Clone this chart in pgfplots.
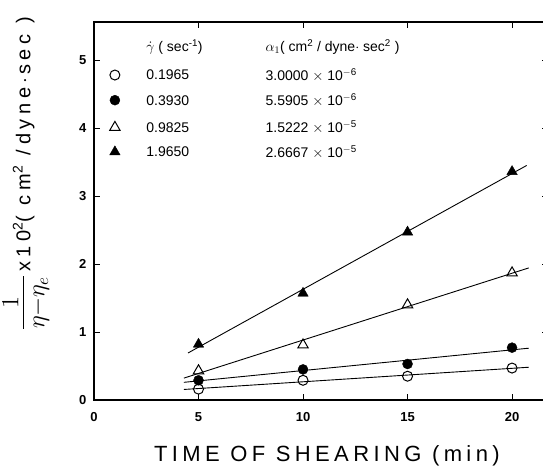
\documentclass[border=0pt]{standalone}
\usepackage{pgfplots}
\pgfplotsset{compat=1.18}
\usepackage{fontspec}
\setmainfont{Liberation Sans}
\usetikzlibrary{calc}

\begin{document}
\begin{tikzpicture}
\begin{axis}[
  scale only axis,
  width=454pt, height=378pt,
  xmin=0, xmax=21.72, ymin=0, ymax=5.56,
  xtick={0,5,10,15,20}, ytick={0,1,2,3,4,5},
  tick align=inside, major tick length=6pt,
  axis line style={line width=1.1pt},
  tick style={line width=1pt, black},
  /pgf/number format/assume math mode=true,
  ticklabel style={font=\fontsize{13}{15}\selectfont\bfseries},
  xticklabel style={yshift=-9pt},
  yticklabel style={xshift=-4pt},
  xlabel={\addfontfeatures{LetterSpace=20}TIME OF SHEARING (min)},
  xlabel style={font=\fontsize{22}{26}\selectfont, at={(axis description cs:0.513,-0.148)}, anchor=center},
  ylabel={\raisebox{-2pt}{\scalebox{1.7}{$\frac{1}{\eta-\eta_{e}}$}}\,{\addfontfeatures{LetterSpace=24}x\,10\textsuperscript{2}( cm\textsuperscript{2} /dyne\,$\cdot$\,sec )}},
  ylabel style={font=\fontsize{20}{24}\selectfont, inner sep=0pt, at={(axis description cs:-0.150,0.598)}, anchor=center},
  clip=false,
]
% open circles
\addplot[only marks, mark=o, mark size=5pt, mark options={fill=white, line width=1pt}] coordinates {(5,0.16) (10,0.29) (15,0.35) (20,0.47)};
\addplot[no marks, line width=0.9pt] coordinates {(4.3,0.155) (20.8,0.482)};
% filled circles
\addplot[only marks, mark=*, mark size=5pt, mark options={fill=black}] coordinates {(5,0.29) (10,0.45) (15,0.53) (20,0.77)};
\addplot[no marks, line width=0.9pt] coordinates {(4.3,0.26) (20.8,0.762)};
% open triangles
\addplot[only marks, mark=triangle, mark size=6pt, mark options={fill=white, line width=1pt}] coordinates {(5,0.43) (10,0.81) (15,1.40) (20,1.87)};
\addplot[no marks, line width=0.9pt] coordinates {(4.3,0.322) (20.8,1.943)};
% filled triangles
\addplot[only marks, mark=triangle*, mark size=6pt, mark options={fill=black}] coordinates {(5,0.82) (10,1.57) (15,2.47) (20,3.36)};
\addplot[no marks, line width=0.9pt] coordinates {(4.5,0.692) (20.7,3.45)};

% legend markers
\addplot[only marks, mark=o, mark size=5pt, mark options={fill=white, line width=1pt}] coordinates {(1.0,4.78)};
\addplot[only marks, mark=*, mark size=5pt, mark options={fill=black}] coordinates {(1.0,4.41)};
\addplot[only marks, mark=triangle, mark size=6pt, mark options={fill=white, line width=1pt}] coordinates {(1.0,4.01)};
\addplot[only marks, mark=triangle*, mark size=6pt, mark options={fill=black}] coordinates {(1.0,3.65)};

\begin{scope}[every node/.style={anchor=west, inner sep=0pt, font=\fontsize{14}{16}\selectfont}]
\node at (axis cs:2.5,5.19) {$\dot{\gamma}$\ ( sec\textsuperscript{-1})};
\node at (axis cs:8.2,5.19) {$\alpha_1$( cm\textsuperscript{2} / dyne$\cdot$ sec\textsuperscript{2} )};
\node at (axis cs:2.5,4.78) {0.1965};
\node at (axis cs:2.5,4.41) {0.3930};
\node at (axis cs:2.5,4.01) {0.9825};
\node at (axis cs:2.5,3.65) {1.9650};
\node at (axis cs:8.2,4.78) {3.0000 $\times$ 10\textsuperscript{$-$6}};
\node at (axis cs:8.2,4.41) {5.5905 $\times$ 10\textsuperscript{$-$6}};
\node at (axis cs:8.2,4.01) {1.5222 $\times$ 10\textsuperscript{$-$5}};
\node at (axis cs:8.2,3.65) {2.6667 $\times$ 10\textsuperscript{$-$5}};
\end{scope}
\end{axis}
\pgfresetboundingbox
\path ($(current axis.south west)+(-94pt,-69pt)$) rectangle ($(current axis.north east)+(-5pt,22pt)$);
\end{tikzpicture}
\end{document}
